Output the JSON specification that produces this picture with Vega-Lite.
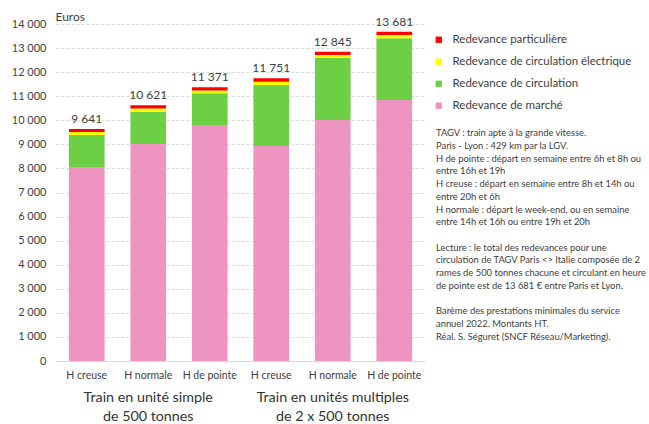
{
  "$schema": "https://vega.github.io/schema/vega-lite/v6.json",
  "width": 369,
  "height": 337,
  "autosize": {"type": "none"},
  "padding": {"left": 56, "top": 24, "right": 224, "bottom": 63},
  "background": "white",
  "config": {
    "font": "Lato",
    "locale": {"number": {"decimal": ",", "thousands": " ", "grouping": [3], "currency": ["", " €"]}},
    "view": {"stroke": null}
  },
  "datasets": {
    "fees": [
      {"cat": "1|H creuse", "comp": "Redevance de marché", "ord": 1, "value": 8030},
      {"cat": "1|H creuse", "comp": "Redevance de circulation", "ord": 2, "value": 1360},
      {"cat": "1|H creuse", "comp": "Redevance de circulation électrique", "ord": 3, "value": 120},
      {"cat": "1|H creuse", "comp": "Redevance particulière", "ord": 4, "value": 131},
      {"cat": "2|H normale", "comp": "Redevance de marché", "ord": 1, "value": 9015},
      {"cat": "2|H normale", "comp": "Redevance de circulation", "ord": 2, "value": 1331},
      {"cat": "2|H normale", "comp": "Redevance de circulation électrique", "ord": 3, "value": 145},
      {"cat": "2|H normale", "comp": "Redevance particulière", "ord": 4, "value": 130},
      {"cat": "3|H de pointe", "comp": "Redevance de marché", "ord": 1, "value": 9776},
      {"cat": "3|H de pointe", "comp": "Redevance de circulation", "ord": 2, "value": 1346},
      {"cat": "3|H de pointe", "comp": "Redevance de circulation électrique", "ord": 3, "value": 120},
      {"cat": "3|H de pointe", "comp": "Redevance particulière", "ord": 4, "value": 129},
      {"cat": "4|H creuse", "comp": "Redevance de marché", "ord": 1, "value": 8932},
      {"cat": "4|H creuse", "comp": "Redevance de circulation", "ord": 2, "value": 2534},
      {"cat": "4|H creuse", "comp": "Redevance de circulation électrique", "ord": 3, "value": 140},
      {"cat": "4|H creuse", "comp": "Redevance particulière", "ord": 4, "value": 145},
      {"cat": "5|H normale", "comp": "Redevance de marché", "ord": 1, "value": 10012},
      {"cat": "5|H normale", "comp": "Redevance de circulation", "ord": 2, "value": 2589},
      {"cat": "5|H normale", "comp": "Redevance de circulation électrique", "ord": 3, "value": 115},
      {"cat": "5|H normale", "comp": "Redevance particulière", "ord": 4, "value": 129},
      {"cat": "6|H de pointe", "comp": "Redevance de marché", "ord": 1, "value": 10843},
      {"cat": "6|H de pointe", "comp": "Redevance de circulation", "ord": 2, "value": 2564},
      {"cat": "6|H de pointe", "comp": "Redevance de circulation électrique", "ord": 3, "value": 134},
      {"cat": "6|H de pointe", "comp": "Redevance particulière", "ord": 4, "value": 140}
    ],
    "groups": [
      {"grp": "Train en unité simple|de 500 tonnes"},
      {"grp": "Train en unités multiples|de 2 x 500 tonnes"}
    ]
  },
  "title": {
    "text": [
      "TAGV : train apte à la grande vitesse.",
      "Paris - Lyon : 429 km par la LGV.",
      "H de pointe : départ en semaine entre 6h et 8h ou",
      "entre 16h et 19h",
      "H creuse : départ en semaine entre 8h et 14h ou",
      "entre 20h et 6h",
      "H normale : départ le week-end, ou en semaine",
      "entre 14h et 16h ou entre 19h et 20h",
      "\u200b",
      "Lecture : le total des redevances pour une",
      "circulation de TAGV Paris <> Italie composée de 2",
      "rames de 500 tonnes chacune et circulant en heure",
      "de pointe est de 13 681 € entre Paris et Lyon.",
      "\u200b",
      "Barème des prestations minimales du service",
      "annuel 2022. Montants HT.",
      "Réal. S. Séguret (SNCF Réseau/Marketing)."
    ],
    "anchor": "start",
    "frame": "group",
    "orient": "top",
    "align": "left",
    "baseline": "top",
    "dx": 380,
    "dy": 336,
    "fontSize": 9.4,
    "fontWeight": "normal",
    "lineHeight": 12.7,
    "color": "#404040"
  },
  "layer": [
    {
      "layer": [
        {
          "data": {"name": "fees"},
          "mark": {"type": "bar"},
          "encoding": {
            "x": {
              "field": "cat", "type": "nominal", "sort": null,
              "scale": {"paddingInner": 0.42, "paddingOuter": 0.21},
              "axis": {
                "title": null, "labelExpr": "split(datum.label, '|')[1]", "labelAngle": 0,
                "ticks": false, "domain": true, "domainColor": "#D9D9D9", "grid": false,
                "labelFontSize": 10.5, "labelPadding": 9, "labelColor": "#404040"
              }
            },
            "y": {
              "field": "value", "type": "quantitative", "stack": "zero",
              "scale": {"domain": [0, 14000], "nice": false},
              "axis": {
                "title": "Euros", "titleAngle": 0, "titleX": -1, "titleY": -8,
                "titleAlign": "left", "titleBaseline": "middle", "titleFontWeight": "normal",
                "titleFontSize": 12, "titleColor": "#404040",
                "tickCount": 14, "format": ",d", "domain": false, "ticks": false,
                "labelPadding": 10, "labelFontSize": 11, "labelColor": "#404040",
                "grid": true, "gridColor": "#D9D9D9", "gridDash": [3, 2]
              }
            },
            "color": {
              "field": "comp", "type": "nominal",
              "scale": {
                "domain": ["Redevance particulière", "Redevance de circulation électrique", "Redevance de circulation", "Redevance de marché"],
                "range": ["#FF0000", "#FFFF00", "#6CCF44", "#EE94C0"]
              },
              "legend": {
                "title": null, "orient": "none", "legendX": 377, "legendY": 10,
                "symbolType": "square", "symbolSize": 40, "symbolStrokeWidth": 0,
                "labelFontSize": 11.5, "labelColor": "#404040", "labelOffset": 8,
                "rowPadding": 9, "labelLimit": 300, "padding": 0
              }
            },
            "order": {"field": "ord", "type": "quantitative"}
          }
        },
        {
          "data": {"name": "fees"},
          "transform": [{"aggregate": [{"op": "sum", "field": "value", "as": "total"}], "groupby": ["cat"]}],
          "mark": {"type": "text", "baseline": "bottom", "dy": -3, "fontSize": 12, "color": "#404040"},
          "encoding": {
            "x": {"field": "cat", "type": "nominal", "sort": null},
            "y": {"field": "total", "type": "quantitative"},
            "text": {"field": "total", "type": "quantitative", "format": ",d"}
          }
        }
      ]
    },
    {
      "data": {"name": "groups"},
      "mark": {"type": "rule", "opacity": 0},
      "encoding": {
        "x": {
          "field": "grp", "type": "nominal", "sort": null,
          "axis": {
            "orient": "bottom", "title": null, "labelExpr": "split(datum.label, '|')",
            "labelAngle": 0, "labelFontSize": 14.3, "labelLineHeight": 19, "labelPadding": 29,
            "labelLimit": 400, "labelColor": "#333333", "ticks": false, "domain": false, "grid": false
          }
        }
      }
    }
  ],
  "resolve": {"scale": {"x": "independent"}, "axis": {"x": "independent"}}
}
